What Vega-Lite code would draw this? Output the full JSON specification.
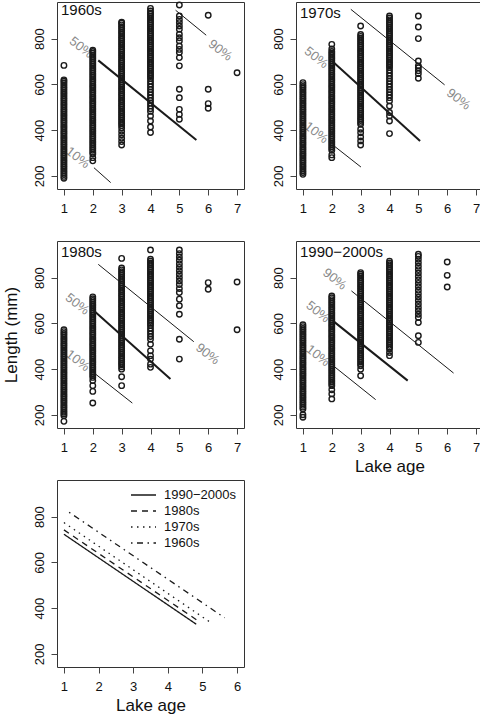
{
  "$schema": "https://vega.github.io/schema/vega-lite/v6.json",
  "padding": {"left": 1, "top": -2, "right": 0, "bottom": 0},
  "bounds": "flush",
  "spacing": 52,
  "columns": 2,
  "config": {
    "font": "Liberation Sans",
    "background": "white",
    "view": {"stroke": "#333", "strokeWidth": 1},
    "axis": {"domain": false, "grid": false, "ticks": true, "tickColor": "#444", "tickSize": 6, "labelFontSize": 13, "labelColor": "#111", "labelPadding": 7, "labelOverlap": false, "labelBound": false, "labelFlush": false, "titleFontSize": 17, "titleFontWeight": "normal", "titleColor": "#111", "labelFont": "Liberation Sans", "titleFont": "Liberation Sans"},
    "axisY": {"labelAngle": -90, "labelAlign": "center", "labelBaseline": "bottom", "labelPadding": 5, "titlePadding": 13},
    "axisX": {"titlePadding": 4},
    "title": {"fontSize": 15, "fontWeight": "normal", "anchor": "start", "frame": "group", "offset": -19, "dx": 4, "color": "#111", "baseline": "alphabetic", "font": "Liberation Sans"},
    "point": {"shape": "circle", "filled": false, "size": 30, "stroke": "#1a1a1a", "strokeWidth": 1.4, "opacity": 1, "clip": true}
  },
  "datasets": {
    "p60": [
      {"age":1,"len":190},{"age":1,"len":198},{"age":1,"len":206},{"age":1,"len":214},{"age":1,"len":222},{"age":1,"len":230},{"age":1,"len":238},{"age":1,"len":246},{"age":1,"len":254},{"age":1,"len":262},{"age":1,"len":270},{"age":1,"len":278},{"age":1,"len":286},{"age":1,"len":294},{"age":1,"len":302},{"age":1,"len":310},{"age":1,"len":318},{"age":1,"len":326},{"age":1,"len":334},{"age":1,"len":342},{"age":1,"len":350},{"age":1,"len":358},{"age":1,"len":366},{"age":1,"len":374},{"age":1,"len":382},{"age":1,"len":390},{"age":1,"len":398},{"age":1,"len":406},{"age":1,"len":414},{"age":1,"len":422},{"age":1,"len":430},{"age":1,"len":438},{"age":1,"len":446},{"age":1,"len":454},{"age":1,"len":462},{"age":1,"len":470},{"age":1,"len":478},{"age":1,"len":486},{"age":1,"len":494},{"age":1,"len":502},{"age":1,"len":510},{"age":1,"len":518},{"age":1,"len":526},{"age":1,"len":534},{"age":1,"len":542},{"age":1,"len":550},{"age":1,"len":558},{"age":1,"len":566},{"age":1,"len":574},{"age":1,"len":582},{"age":1,"len":590},{"age":1,"len":598},{"age":1,"len":606},{"age":1,"len":614},{"age":1,"len":620},{"age":1,"len":683},
      {"age":2,"len":266},{"age":2,"len":280},{"age":2,"len":296},{"age":2,"len":304},{"age":2,"len":312},{"age":2,"len":320},{"age":2,"len":328},{"age":2,"len":336},{"age":2,"len":344},{"age":2,"len":352},{"age":2,"len":360},{"age":2,"len":368},{"age":2,"len":376},{"age":2,"len":384},{"age":2,"len":392},{"age":2,"len":400},{"age":2,"len":408},{"age":2,"len":416},{"age":2,"len":424},{"age":2,"len":432},{"age":2,"len":440},{"age":2,"len":448},{"age":2,"len":456},{"age":2,"len":464},{"age":2,"len":472},{"age":2,"len":480},{"age":2,"len":488},{"age":2,"len":496},{"age":2,"len":504},{"age":2,"len":512},{"age":2,"len":520},{"age":2,"len":528},{"age":2,"len":536},{"age":2,"len":544},{"age":2,"len":552},{"age":2,"len":560},{"age":2,"len":568},{"age":2,"len":576},{"age":2,"len":584},{"age":2,"len":592},{"age":2,"len":600},{"age":2,"len":608},{"age":2,"len":616},{"age":2,"len":624},{"age":2,"len":632},{"age":2,"len":640},{"age":2,"len":648},{"age":2,"len":656},{"age":2,"len":664},{"age":2,"len":672},{"age":2,"len":680},{"age":2,"len":688},{"age":2,"len":696},{"age":2,"len":704},{"age":2,"len":712},{"age":2,"len":720},{"age":2,"len":728},{"age":2,"len":736},{"age":2,"len":744},{"age":2,"len":750},
      {"age":3,"len":335},{"age":3,"len":350},{"age":3,"len":365},{"age":3,"len":380},{"age":3,"len":395},{"age":3,"len":410},{"age":3,"len":420},{"age":3,"len":428},{"age":3,"len":436},{"age":3,"len":444},{"age":3,"len":452},{"age":3,"len":460},{"age":3,"len":468},{"age":3,"len":476},{"age":3,"len":484},{"age":3,"len":492},{"age":3,"len":500},{"age":3,"len":508},{"age":3,"len":516},{"age":3,"len":524},{"age":3,"len":532},{"age":3,"len":540},{"age":3,"len":548},{"age":3,"len":556},{"age":3,"len":564},{"age":3,"len":572},{"age":3,"len":580},{"age":3,"len":588},{"age":3,"len":596},{"age":3,"len":604},{"age":3,"len":612},{"age":3,"len":620},{"age":3,"len":628},{"age":3,"len":636},{"age":3,"len":644},{"age":3,"len":652},{"age":3,"len":660},{"age":3,"len":668},{"age":3,"len":676},{"age":3,"len":684},{"age":3,"len":692},{"age":3,"len":700},{"age":3,"len":708},{"age":3,"len":716},{"age":3,"len":724},{"age":3,"len":732},{"age":3,"len":740},{"age":3,"len":748},{"age":3,"len":756},{"age":3,"len":764},{"age":3,"len":772},{"age":3,"len":780},{"age":3,"len":788},{"age":3,"len":796},{"age":3,"len":804},{"age":3,"len":812},{"age":3,"len":820},{"age":3,"len":828},{"age":3,"len":836},{"age":3,"len":844},{"age":3,"len":852},{"age":3,"len":860},{"age":3,"len":868},{"age":3,"len":872},
      {"age":4,"len":390},{"age":4,"len":414},{"age":4,"len":440},{"age":4,"len":462},{"age":4,"len":482},{"age":4,"len":494},{"age":4,"len":506},{"age":4,"len":518},{"age":4,"len":530},{"age":4,"len":542},{"age":4,"len":554},{"age":4,"len":566},{"age":4,"len":578},{"age":4,"len":590},{"age":4,"len":602},{"age":4,"len":614},{"age":4,"len":626},{"age":4,"len":634},{"age":4,"len":642},{"age":4,"len":650},{"age":4,"len":658},{"age":4,"len":666},{"age":4,"len":674},{"age":4,"len":682},{"age":4,"len":690},{"age":4,"len":698},{"age":4,"len":706},{"age":4,"len":714},{"age":4,"len":722},{"age":4,"len":730},{"age":4,"len":738},{"age":4,"len":746},{"age":4,"len":754},{"age":4,"len":762},{"age":4,"len":770},{"age":4,"len":778},{"age":4,"len":786},{"age":4,"len":794},{"age":4,"len":802},{"age":4,"len":810},{"age":4,"len":818},{"age":4,"len":826},{"age":4,"len":834},{"age":4,"len":842},{"age":4,"len":850},{"age":4,"len":858},{"age":4,"len":866},{"age":4,"len":874},{"age":4,"len":882},{"age":4,"len":890},{"age":4,"len":898},{"age":4,"len":906},{"age":4,"len":912},{"age":4,"len":921},{"age":4,"len":932},
      {"age":5,"len":947},{"age":5,"len":899},{"age":5,"len":884},{"age":5,"len":870},{"age":5,"len":855},{"age":5,"len":841},{"age":5,"len":819},{"age":5,"len":804},{"age":5,"len":790},{"age":5,"len":768},{"age":5,"len":753},{"age":5,"len":739},{"age":5,"len":717},{"age":5,"len":681},{"age":5,"len":579},{"age":5,"len":542},{"age":5,"len":491},{"age":5,"len":469},{"age":5,"len":448},
      {"age":6,"len":902},{"age":6,"len":579},{"age":6,"len":516},{"age":6,"len":496},
      {"age":7,"len":651}
    ],
    "p70": [
      {"age":1,"len":207},{"age":1,"len":215},{"age":1,"len":223},{"age":1,"len":231},{"age":1,"len":239},{"age":1,"len":247},{"age":1,"len":255},{"age":1,"len":263},{"age":1,"len":271},{"age":1,"len":279},{"age":1,"len":287},{"age":1,"len":295},{"age":1,"len":303},{"age":1,"len":311},{"age":1,"len":319},{"age":1,"len":327},{"age":1,"len":335},{"age":1,"len":343},{"age":1,"len":351},{"age":1,"len":359},{"age":1,"len":367},{"age":1,"len":375},{"age":1,"len":383},{"age":1,"len":391},{"age":1,"len":399},{"age":1,"len":407},{"age":1,"len":415},{"age":1,"len":423},{"age":1,"len":431},{"age":1,"len":439},{"age":1,"len":447},{"age":1,"len":455},{"age":1,"len":463},{"age":1,"len":471},{"age":1,"len":479},{"age":1,"len":487},{"age":1,"len":495},{"age":1,"len":503},{"age":1,"len":511},{"age":1,"len":519},{"age":1,"len":527},{"age":1,"len":535},{"age":1,"len":543},{"age":1,"len":551},{"age":1,"len":559},{"age":1,"len":567},{"age":1,"len":575},{"age":1,"len":583},{"age":1,"len":591},{"age":1,"len":599},{"age":1,"len":608},
      {"age":2,"len":280},{"age":2,"len":292},{"age":2,"len":312},{"age":2,"len":320},{"age":2,"len":328},{"age":2,"len":336},{"age":2,"len":344},{"age":2,"len":352},{"age":2,"len":360},{"age":2,"len":368},{"age":2,"len":376},{"age":2,"len":384},{"age":2,"len":392},{"age":2,"len":400},{"age":2,"len":408},{"age":2,"len":416},{"age":2,"len":424},{"age":2,"len":432},{"age":2,"len":440},{"age":2,"len":448},{"age":2,"len":456},{"age":2,"len":464},{"age":2,"len":472},{"age":2,"len":480},{"age":2,"len":488},{"age":2,"len":496},{"age":2,"len":504},{"age":2,"len":512},{"age":2,"len":520},{"age":2,"len":528},{"age":2,"len":536},{"age":2,"len":544},{"age":2,"len":552},{"age":2,"len":560},{"age":2,"len":568},{"age":2,"len":576},{"age":2,"len":584},{"age":2,"len":592},{"age":2,"len":600},{"age":2,"len":608},{"age":2,"len":616},{"age":2,"len":624},{"age":2,"len":632},{"age":2,"len":640},{"age":2,"len":648},{"age":2,"len":656},{"age":2,"len":664},{"age":2,"len":672},{"age":2,"len":680},{"age":2,"len":688},{"age":2,"len":696},{"age":2,"len":704},{"age":2,"len":712},{"age":2,"len":720},{"age":2,"len":728},{"age":2,"len":736},{"age":2,"len":744},{"age":2,"len":755},{"age":2,"len":775},
      {"age":3,"len":335},{"age":3,"len":353},{"age":3,"len":370},{"age":3,"len":389},{"age":3,"len":404},{"age":3,"len":426},{"age":3,"len":434},{"age":3,"len":442},{"age":3,"len":450},{"age":3,"len":458},{"age":3,"len":466},{"age":3,"len":474},{"age":3,"len":482},{"age":3,"len":490},{"age":3,"len":498},{"age":3,"len":506},{"age":3,"len":514},{"age":3,"len":522},{"age":3,"len":530},{"age":3,"len":538},{"age":3,"len":546},{"age":3,"len":554},{"age":3,"len":562},{"age":3,"len":570},{"age":3,"len":578},{"age":3,"len":586},{"age":3,"len":594},{"age":3,"len":602},{"age":3,"len":610},{"age":3,"len":618},{"age":3,"len":626},{"age":3,"len":634},{"age":3,"len":642},{"age":3,"len":650},{"age":3,"len":658},{"age":3,"len":666},{"age":3,"len":674},{"age":3,"len":682},{"age":3,"len":690},{"age":3,"len":698},{"age":3,"len":706},{"age":3,"len":714},{"age":3,"len":722},{"age":3,"len":730},{"age":3,"len":738},{"age":3,"len":746},{"age":3,"len":754},{"age":3,"len":762},{"age":3,"len":770},{"age":3,"len":778},{"age":3,"len":786},{"age":3,"len":794},{"age":3,"len":802},{"age":3,"len":810},{"age":3,"len":818},{"age":3,"len":855},
      {"age":4,"len":385},{"age":4,"len":440},{"age":4,"len":462},{"age":4,"len":477},{"age":4,"len":506},{"age":4,"len":528},{"age":4,"len":542},{"age":4,"len":554},{"age":4,"len":566},{"age":4,"len":578},{"age":4,"len":590},{"age":4,"len":602},{"age":4,"len":614},{"age":4,"len":626},{"age":4,"len":638},{"age":4,"len":650},{"age":4,"len":662},{"age":4,"len":674},{"age":4,"len":682},{"age":4,"len":690},{"age":4,"len":698},{"age":4,"len":706},{"age":4,"len":714},{"age":4,"len":722},{"age":4,"len":730},{"age":4,"len":738},{"age":4,"len":746},{"age":4,"len":754},{"age":4,"len":762},{"age":4,"len":770},{"age":4,"len":778},{"age":4,"len":786},{"age":4,"len":794},{"age":4,"len":802},{"age":4,"len":810},{"age":4,"len":818},{"age":4,"len":826},{"age":4,"len":834},{"age":4,"len":842},{"age":4,"len":850},{"age":4,"len":858},{"age":4,"len":866},{"age":4,"len":874},{"age":4,"len":882},{"age":4,"len":890},{"age":4,"len":899},
      {"age":5,"len":899},{"age":5,"len":851},{"age":5,"len":800},{"age":5,"len":702},{"age":5,"len":681},{"age":5,"len":673},{"age":5,"len":660},{"age":5,"len":647},{"age":5,"len":627}
    ],
    "p80": [
      {"age":1,"len":172},{"age":1,"len":197},{"age":1,"len":204},{"age":1,"len":212},{"age":1,"len":220},{"age":1,"len":228},{"age":1,"len":236},{"age":1,"len":244},{"age":1,"len":252},{"age":1,"len":260},{"age":1,"len":268},{"age":1,"len":276},{"age":1,"len":284},{"age":1,"len":292},{"age":1,"len":300},{"age":1,"len":308},{"age":1,"len":316},{"age":1,"len":324},{"age":1,"len":332},{"age":1,"len":340},{"age":1,"len":348},{"age":1,"len":356},{"age":1,"len":364},{"age":1,"len":372},{"age":1,"len":380},{"age":1,"len":388},{"age":1,"len":396},{"age":1,"len":404},{"age":1,"len":412},{"age":1,"len":420},{"age":1,"len":428},{"age":1,"len":436},{"age":1,"len":444},{"age":1,"len":452},{"age":1,"len":460},{"age":1,"len":468},{"age":1,"len":476},{"age":1,"len":484},{"age":1,"len":492},{"age":1,"len":500},{"age":1,"len":508},{"age":1,"len":516},{"age":1,"len":524},{"age":1,"len":532},{"age":1,"len":540},{"age":1,"len":548},{"age":1,"len":556},{"age":1,"len":564},{"age":1,"len":572},
      {"age":2,"len":252},{"age":2,"len":303},{"age":2,"len":328},{"age":2,"len":350},{"age":2,"len":364},{"age":2,"len":372},{"age":2,"len":380},{"age":2,"len":388},{"age":2,"len":396},{"age":2,"len":404},{"age":2,"len":412},{"age":2,"len":420},{"age":2,"len":428},{"age":2,"len":436},{"age":2,"len":444},{"age":2,"len":452},{"age":2,"len":460},{"age":2,"len":468},{"age":2,"len":476},{"age":2,"len":484},{"age":2,"len":492},{"age":2,"len":500},{"age":2,"len":508},{"age":2,"len":516},{"age":2,"len":524},{"age":2,"len":532},{"age":2,"len":540},{"age":2,"len":548},{"age":2,"len":556},{"age":2,"len":564},{"age":2,"len":572},{"age":2,"len":580},{"age":2,"len":588},{"age":2,"len":596},{"age":2,"len":604},{"age":2,"len":612},{"age":2,"len":620},{"age":2,"len":628},{"age":2,"len":636},{"age":2,"len":644},{"age":2,"len":652},{"age":2,"len":660},{"age":2,"len":668},{"age":2,"len":676},{"age":2,"len":684},{"age":2,"len":692},{"age":2,"len":700},{"age":2,"len":708},{"age":2,"len":716},
      {"age":3,"len":328},{"age":3,"len":367},{"age":3,"len":400},{"age":3,"len":410},{"age":3,"len":418},{"age":3,"len":426},{"age":3,"len":434},{"age":3,"len":442},{"age":3,"len":450},{"age":3,"len":458},{"age":3,"len":466},{"age":3,"len":474},{"age":3,"len":482},{"age":3,"len":490},{"age":3,"len":498},{"age":3,"len":506},{"age":3,"len":514},{"age":3,"len":522},{"age":3,"len":530},{"age":3,"len":538},{"age":3,"len":546},{"age":3,"len":554},{"age":3,"len":562},{"age":3,"len":570},{"age":3,"len":578},{"age":3,"len":586},{"age":3,"len":594},{"age":3,"len":602},{"age":3,"len":610},{"age":3,"len":618},{"age":3,"len":626},{"age":3,"len":634},{"age":3,"len":642},{"age":3,"len":650},{"age":3,"len":658},{"age":3,"len":666},{"age":3,"len":674},{"age":3,"len":682},{"age":3,"len":690},{"age":3,"len":698},{"age":3,"len":706},{"age":3,"len":714},{"age":3,"len":722},{"age":3,"len":730},{"age":3,"len":738},{"age":3,"len":746},{"age":3,"len":754},{"age":3,"len":762},{"age":3,"len":770},{"age":3,"len":778},{"age":3,"len":786},{"age":3,"len":794},{"age":3,"len":802},{"age":3,"len":810},{"age":3,"len":818},{"age":3,"len":826},{"age":3,"len":834},{"age":3,"len":842},{"age":3,"len":884},
      {"age":4,"len":408},{"age":4,"len":422},{"age":4,"len":444},{"age":4,"len":459},{"age":4,"len":480},{"age":4,"len":509},{"age":4,"len":531},{"age":4,"len":543},{"age":4,"len":555},{"age":4,"len":567},{"age":4,"len":579},{"age":4,"len":591},{"age":4,"len":600},{"age":4,"len":608},{"age":4,"len":616},{"age":4,"len":624},{"age":4,"len":632},{"age":4,"len":640},{"age":4,"len":648},{"age":4,"len":656},{"age":4,"len":664},{"age":4,"len":672},{"age":4,"len":680},{"age":4,"len":688},{"age":4,"len":696},{"age":4,"len":704},{"age":4,"len":712},{"age":4,"len":720},{"age":4,"len":728},{"age":4,"len":736},{"age":4,"len":744},{"age":4,"len":752},{"age":4,"len":760},{"age":4,"len":768},{"age":4,"len":776},{"age":4,"len":784},{"age":4,"len":792},{"age":4,"len":800},{"age":4,"len":808},{"age":4,"len":816},{"age":4,"len":824},{"age":4,"len":832},{"age":4,"len":840},{"age":4,"len":848},{"age":4,"len":856},{"age":4,"len":864},{"age":4,"len":872},{"age":4,"len":880},{"age":4,"len":921},
      {"age":5,"len":921},{"age":5,"len":905},{"age":5,"len":890},{"age":5,"len":876},{"age":5,"len":860},{"age":5,"len":845},{"age":5,"len":830},{"age":5,"len":815},{"age":5,"len":800},{"age":5,"len":785},{"age":5,"len":770},{"age":5,"len":752},{"age":5,"len":735},{"age":5,"len":706},{"age":5,"len":677},{"age":5,"len":640},{"age":5,"len":531},{"age":5,"len":444},
      {"age":6,"len":778},{"age":6,"len":749},
      {"age":7,"len":781},{"age":7,"len":572}
    ],
    "p90": [
      {"age":1,"len":190},{"age":1,"len":201},{"age":1,"len":226},{"age":1,"len":234},{"age":1,"len":242},{"age":1,"len":250},{"age":1,"len":258},{"age":1,"len":266},{"age":1,"len":274},{"age":1,"len":282},{"age":1,"len":290},{"age":1,"len":298},{"age":1,"len":306},{"age":1,"len":314},{"age":1,"len":322},{"age":1,"len":330},{"age":1,"len":338},{"age":1,"len":346},{"age":1,"len":354},{"age":1,"len":362},{"age":1,"len":370},{"age":1,"len":378},{"age":1,"len":386},{"age":1,"len":394},{"age":1,"len":402},{"age":1,"len":410},{"age":1,"len":418},{"age":1,"len":426},{"age":1,"len":434},{"age":1,"len":442},{"age":1,"len":450},{"age":1,"len":458},{"age":1,"len":466},{"age":1,"len":474},{"age":1,"len":482},{"age":1,"len":490},{"age":1,"len":498},{"age":1,"len":506},{"age":1,"len":514},{"age":1,"len":522},{"age":1,"len":530},{"age":1,"len":538},{"age":1,"len":546},{"age":1,"len":554},{"age":1,"len":562},{"age":1,"len":570},{"age":1,"len":578},{"age":1,"len":586},{"age":1,"len":594},
      {"age":2,"len":270},{"age":2,"len":292},{"age":2,"len":310},{"age":2,"len":328},{"age":2,"len":336},{"age":2,"len":344},{"age":2,"len":352},{"age":2,"len":360},{"age":2,"len":368},{"age":2,"len":376},{"age":2,"len":384},{"age":2,"len":392},{"age":2,"len":400},{"age":2,"len":408},{"age":2,"len":416},{"age":2,"len":424},{"age":2,"len":432},{"age":2,"len":440},{"age":2,"len":448},{"age":2,"len":456},{"age":2,"len":464},{"age":2,"len":472},{"age":2,"len":480},{"age":2,"len":488},{"age":2,"len":496},{"age":2,"len":504},{"age":2,"len":512},{"age":2,"len":520},{"age":2,"len":528},{"age":2,"len":536},{"age":2,"len":544},{"age":2,"len":552},{"age":2,"len":560},{"age":2,"len":568},{"age":2,"len":576},{"age":2,"len":584},{"age":2,"len":592},{"age":2,"len":600},{"age":2,"len":608},{"age":2,"len":616},{"age":2,"len":624},{"age":2,"len":632},{"age":2,"len":640},{"age":2,"len":648},{"age":2,"len":656},{"age":2,"len":664},{"age":2,"len":672},{"age":2,"len":680},{"age":2,"len":688},{"age":2,"len":696},{"age":2,"len":704},{"age":2,"len":712},{"age":2,"len":720},
      {"age":3,"len":371},{"age":3,"len":400},{"age":3,"len":415},{"age":3,"len":423},{"age":3,"len":431},{"age":3,"len":439},{"age":3,"len":447},{"age":3,"len":455},{"age":3,"len":463},{"age":3,"len":471},{"age":3,"len":479},{"age":3,"len":487},{"age":3,"len":495},{"age":3,"len":503},{"age":3,"len":511},{"age":3,"len":519},{"age":3,"len":527},{"age":3,"len":535},{"age":3,"len":543},{"age":3,"len":551},{"age":3,"len":559},{"age":3,"len":567},{"age":3,"len":575},{"age":3,"len":583},{"age":3,"len":591},{"age":3,"len":599},{"age":3,"len":607},{"age":3,"len":615},{"age":3,"len":623},{"age":3,"len":631},{"age":3,"len":639},{"age":3,"len":647},{"age":3,"len":655},{"age":3,"len":663},{"age":3,"len":671},{"age":3,"len":679},{"age":3,"len":687},{"age":3,"len":695},{"age":3,"len":703},{"age":3,"len":711},{"age":3,"len":719},{"age":3,"len":727},{"age":3,"len":735},{"age":3,"len":743},{"age":3,"len":751},{"age":3,"len":759},{"age":3,"len":767},{"age":3,"len":775},{"age":3,"len":783},{"age":3,"len":791},{"age":3,"len":799},{"age":3,"len":807},{"age":3,"len":815},{"age":3,"len":822},
      {"age":4,"len":459},{"age":4,"len":473},{"age":4,"len":488},{"age":4,"len":496},{"age":4,"len":504},{"age":4,"len":512},{"age":4,"len":520},{"age":4,"len":528},{"age":4,"len":536},{"age":4,"len":544},{"age":4,"len":552},{"age":4,"len":560},{"age":4,"len":568},{"age":4,"len":576},{"age":4,"len":584},{"age":4,"len":592},{"age":4,"len":600},{"age":4,"len":608},{"age":4,"len":616},{"age":4,"len":624},{"age":4,"len":632},{"age":4,"len":640},{"age":4,"len":648},{"age":4,"len":656},{"age":4,"len":664},{"age":4,"len":672},{"age":4,"len":680},{"age":4,"len":688},{"age":4,"len":696},{"age":4,"len":704},{"age":4,"len":712},{"age":4,"len":720},{"age":4,"len":728},{"age":4,"len":736},{"age":4,"len":744},{"age":4,"len":752},{"age":4,"len":760},{"age":4,"len":768},{"age":4,"len":776},{"age":4,"len":784},{"age":4,"len":792},{"age":4,"len":800},{"age":4,"len":808},{"age":4,"len":816},{"age":4,"len":824},{"age":4,"len":832},{"age":4,"len":840},{"age":4,"len":848},{"age":4,"len":856},{"age":4,"len":864},{"age":4,"len":872},
      {"age":5,"len":517},{"age":5,"len":546},{"age":5,"len":604},{"age":5,"len":626},{"age":5,"len":640},{"age":5,"len":655},{"age":5,"len":670},{"age":5,"len":685},{"age":5,"len":700},{"age":5,"len":715},{"age":5,"len":730},{"age":5,"len":745},{"age":5,"len":760},{"age":5,"len":775},{"age":5,"len":790},{"age":5,"len":805},{"age":5,"len":820},{"age":5,"len":835},{"age":5,"len":850},{"age":5,"len":865},{"age":5,"len":880},{"age":5,"len":893},{"age":5,"len":902},
      {"age":6,"len":868},{"age":6,"len":810},{"age":6,"len":759}
    ],
    "ql": [
      {"dec":"1960s","q":"50%","age":2.19,"len":705},{"dec":"1960s","q":"50%","age":5.59,"len":357},
      {"dec":"1960s","q":"10%","age":2.04,"len":236},{"dec":"1960s","q":"10%","age":2.62,"len":171},
      {"dec":"1960s","q":"90%","age":4.87,"len":924},{"dec":"1960s","q":"90%","age":5.93,"len":815},
      {"dec":"1970s","q":"50%","age":2.01,"len":702},{"dec":"1970s","q":"50%","age":5.06,"len":353},
      {"dec":"1970s","q":"10%","age":2.04,"len":335},{"dec":"1970s","q":"10%","age":3.01,"len":239},
      {"dec":"1970s","q":"90%","age":2.66,"len":928},{"dec":"1970s","q":"90%","age":5.91,"len":598},
      {"dec":"1980s","q":"50%","age":2.0,"len":660},{"dec":"1980s","q":"50%","age":4.69,"len":357},
      {"dec":"1980s","q":"10%","age":2.02,"len":386},{"dec":"1980s","q":"10%","age":3.37,"len":252},
      {"dec":"1980s","q":"90%","age":2.19,"len":858},{"dec":"1980s","q":"90%","age":5.5,"len":520},
      {"dec":"1990−2000s","q":"50%","age":2.04,"len":611},{"dec":"1990−2000s","q":"50%","age":4.63,"len":350},
      {"dec":"1990−2000s","q":"10%","age":2.08,"len":412},{"dec":"1990−2000s","q":"10%","age":3.52,"len":267},
      {"dec":"1990−2000s","q":"90%","age":2.68,"len":742},{"dec":"1990−2000s","q":"90%","age":6.22,"len":383}
    ],
    "qt": [
      {"dec":"1960s","q":"50%","age":1.60,"len":761},{"dec":"1960s","q":"10%","age":1.48,"len":280},{"dec":"1960s","q":"90%","age":6.42,"len":749},
      {"dec":"1970s","q":"50%","age":1.46,"len":717},{"dec":"1970s","q":"10%","age":1.46,"len":389},{"dec":"1970s","q":"90%","age":6.39,"len":535},
      {"dec":"1980s","q":"50%","age":1.46,"len":684},{"dec":"1980s","q":"10%","age":1.48,"len":437},{"dec":"1980s","q":"90%","age":5.98,"len":466},
      {"dec":"1990−2000s","q":"50%","age":1.52,"len":650},{"dec":"1990−2000s","q":"10%","age":1.52,"len":459},{"dec":"1990−2000s","q":"90%","age":2.10,"len":793}
    ],
    "fit": [
      {"dec":"1990−2000s","age":1,"len":723},{"dec":"1990−2000s","age":4.82,"len":330},
      {"dec":"1980s","age":1,"len":742},{"dec":"1980s","age":4.87,"len":345},
      {"dec":"1970s","age":1,"len":774},{"dec":"1970s","age":5.21,"len":340},
      {"dec":"1960s","age":1.15,"len":819},{"dec":"1960s","age":5.64,"len":358}
    ]
  },
  "concat": [
    {
      "width": 187, "height": 187,
      "title": {"text": "1960s"},
      "encoding": {
        "x": {"field": "age", "type": "quantitative", "scale": {"domain": [0.76, 7.24], "nice": false, "zero": false}, "axis": {"values": [1,2,3,4,5,6,7], "title": null}},
        "y": {"field": "len", "type": "quantitative", "scale": {"domain": [143, 960], "nice": false, "zero": false}, "axis": {"values": [200,400,600,800], "title": null}}
      },
      "layer": [
        {"data": {"name": "qt"}, "transform": [{"filter": {"field": "dec", "equal": "1960s"}}], "mark": {"type": "text", "angle": 38, "fontSize": 13, "color": "#8a8a8a", "align": "center", "baseline": "middle"}, "encoding": {"text": {"field": "q"}}},
        {"data": {"name": "p60"}, "mark": {"type": "point"}},
        {"data": {"name": "ql"}, "transform": [{"filter": {"field": "dec", "equal": "1960s"}}, {"filter": {"field": "q", "equal": "50%"}}], "mark": {"type": "line", "color": "#1a1a1a", "strokeWidth": 2, "clip": true}},
        {"data": {"name": "ql"}, "transform": [{"filter": {"field": "dec", "equal": "1960s"}}, {"filter": {"field": "q", "oneOf": ["10%", "90%"]}}], "mark": {"type": "line", "color": "#1a1a1a", "strokeWidth": 1, "clip": true}, "encoding": {"detail": {"field": "q"}}}
      ]
    },
    {
      "width": 187, "height": 187,
      "title": {"text": "1970s"},
      "encoding": {
        "x": {"field": "age", "type": "quantitative", "scale": {"domain": [0.76, 7.24], "nice": false, "zero": false}, "axis": {"values": [1,2,3,4,5,6,7], "title": null}},
        "y": {"field": "len", "type": "quantitative", "scale": {"domain": [143, 960], "nice": false, "zero": false}, "axis": {"values": [200,400,600,800], "title": null}}
      },
      "layer": [
        {"data": {"name": "qt"}, "transform": [{"filter": {"field": "dec", "equal": "1970s"}}], "mark": {"type": "text", "angle": 38, "fontSize": 13, "color": "#8a8a8a", "align": "center", "baseline": "middle"}, "encoding": {"text": {"field": "q"}}},
        {"data": {"name": "p70"}, "mark": {"type": "point"}},
        {"data": {"name": "ql"}, "transform": [{"filter": {"field": "dec", "equal": "1970s"}}, {"filter": {"field": "q", "equal": "50%"}}], "mark": {"type": "line", "color": "#1a1a1a", "strokeWidth": 2, "clip": true}},
        {"data": {"name": "ql"}, "transform": [{"filter": {"field": "dec", "equal": "1970s"}}, {"filter": {"field": "q", "oneOf": ["10%", "90%"]}}], "mark": {"type": "line", "color": "#1a1a1a", "strokeWidth": 1, "clip": true}, "encoding": {"detail": {"field": "q"}}}
      ]
    },
    {
      "width": 187, "height": 187,
      "title": {"text": "1980s"},
      "encoding": {
        "x": {"field": "age", "type": "quantitative", "scale": {"domain": [0.76, 7.24], "nice": false, "zero": false}, "axis": {"values": [1,2,3,4,5,6,7], "title": null}},
        "y": {"field": "len", "type": "quantitative", "scale": {"domain": [143, 960], "nice": false, "zero": false}, "axis": {"values": [200,400,600,800], "title": "Length (mm)"}}
      },
      "layer": [
        {"data": {"name": "qt"}, "transform": [{"filter": {"field": "dec", "equal": "1980s"}}], "mark": {"type": "text", "angle": 38, "fontSize": 13, "color": "#8a8a8a", "align": "center", "baseline": "middle"}, "encoding": {"text": {"field": "q"}}},
        {"data": {"name": "p80"}, "mark": {"type": "point"}},
        {"data": {"name": "ql"}, "transform": [{"filter": {"field": "dec", "equal": "1980s"}}, {"filter": {"field": "q", "equal": "50%"}}], "mark": {"type": "line", "color": "#1a1a1a", "strokeWidth": 2, "clip": true}},
        {"data": {"name": "ql"}, "transform": [{"filter": {"field": "dec", "equal": "1980s"}}, {"filter": {"field": "q", "oneOf": ["10%", "90%"]}}], "mark": {"type": "line", "color": "#1a1a1a", "strokeWidth": 1, "clip": true}, "encoding": {"detail": {"field": "q"}}}
      ]
    },
    {
      "width": 187, "height": 187,
      "title": {"text": "1990−2000s"},
      "encoding": {
        "x": {"field": "age", "type": "quantitative", "scale": {"domain": [0.76, 7.24], "nice": false, "zero": false}, "axis": {"values": [1,2,3,4,5,6,7], "title": "Lake age"}},
        "y": {"field": "len", "type": "quantitative", "scale": {"domain": [143, 960], "nice": false, "zero": false}, "axis": {"values": [200,400,600,800], "title": null}}
      },
      "layer": [
        {"data": {"name": "qt"}, "transform": [{"filter": {"field": "dec", "equal": "1990−2000s"}}], "mark": {"type": "text", "angle": 38, "fontSize": 13, "color": "#8a8a8a", "align": "center", "baseline": "middle"}, "encoding": {"text": {"field": "q"}}},
        {"data": {"name": "p90"}, "mark": {"type": "point"}},
        {"data": {"name": "ql"}, "transform": [{"filter": {"field": "dec", "equal": "1990−2000s"}}, {"filter": {"field": "q", "equal": "50%"}}], "mark": {"type": "line", "color": "#1a1a1a", "strokeWidth": 2, "clip": true}},
        {"data": {"name": "ql"}, "transform": [{"filter": {"field": "dec", "equal": "1990−2000s"}}, {"filter": {"field": "q", "oneOf": ["10%", "90%"]}}], "mark": {"type": "line", "color": "#1a1a1a", "strokeWidth": 1, "clip": true}, "encoding": {"detail": {"field": "q"}}}
      ]
    },
    {
      "width": 187, "height": 187,
      "data": {"name": "fit"},
      "mark": {"type": "line", "color": "#1a1a1a", "strokeWidth": 1.3},
      "encoding": {
        "x": {"field": "age", "type": "quantitative", "scale": {"domain": [0.8, 6.2], "nice": false, "zero": false}, "axis": {"values": [1,2,3,4,5,6], "title": "Lake age"}},
        "y": {"field": "len", "type": "quantitative", "scale": {"domain": [143, 960], "nice": false, "zero": false}, "axis": {"values": [200,400,600,800], "title": null}},
        "strokeDash": {"field": "dec", "type": "nominal", "scale": {"domain": ["1990−2000s","1980s","1970s","1960s"], "range": [[1,0],[6,5],[1.5,4.5],[1.5,4.5,6,4.5]]},
          "legend": {"title": null, "orient": "none", "legendX": 80, "legendY": 486.5, "padding": 0, "symbolType": "M-2.5,0H2.5", "symbolSize": 100, "symbolStrokeWidth": 1.3, "symbolStrokeColor": "#1a1a1a", "labelFontSize": 13, "labelColor": "#111", "labelOffset": 14, "rowPadding": 2, "labelFont": "Liberation Sans"}}
      }
    }
  ]
}
